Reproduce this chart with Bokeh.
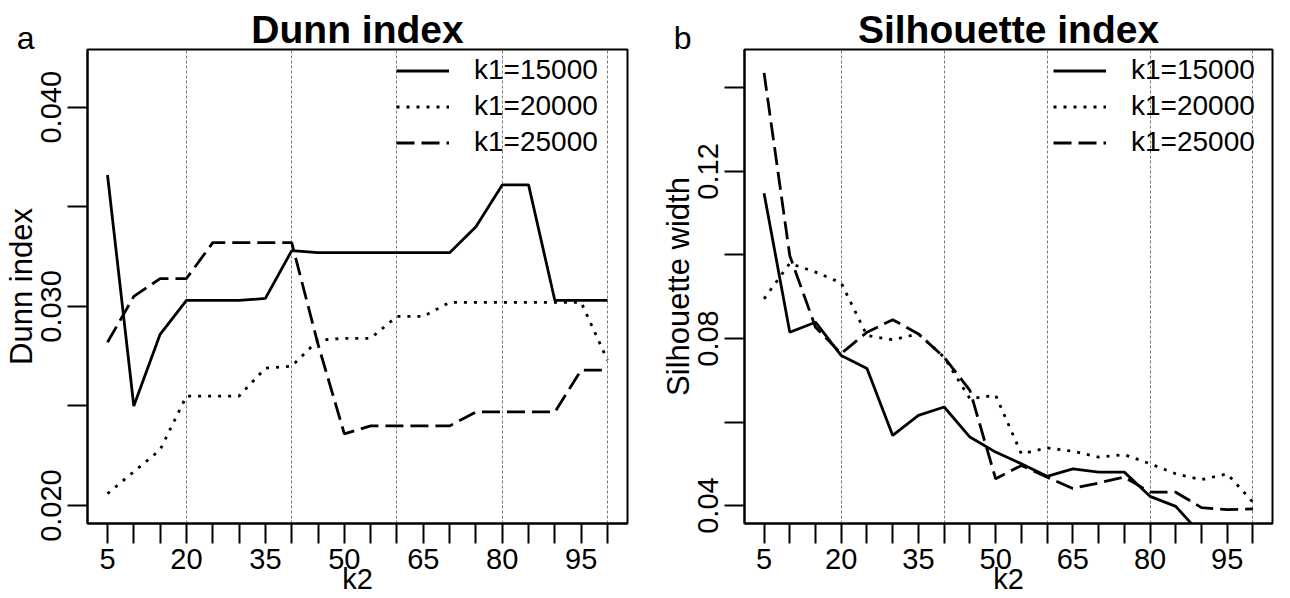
import math
from bokeh.plotting import figure
from bokeh.models import FixedTicker, Range1d, Label, Legend, LegendItem
from bokeh.layouts import row
from bokeh.embed import file_html
from bokeh.resources import INLINE

# ---------------- data ----------------
k2 = [5, 10, 15, 20, 25, 30, 35, 40, 45, 50, 55, 60, 65, 70, 75, 80, 85, 90, 95, 100]

dunn_k1_15000 = [0.0366, 0.0250, 0.0286, 0.0303, 0.0303, 0.0303, 0.0304, 0.0328, 0.0327, 0.0327,
                 0.0327, 0.0327, 0.0327, 0.0327, 0.0340, 0.0361, 0.0361, 0.0303, 0.0303, 0.0303]
dunn_k1_20000 = [0.0206, 0.0217, 0.0228, 0.0255, 0.0255, 0.0255, 0.0269, 0.0270, 0.0283, 0.0284,
                 0.0284, 0.0295, 0.0295, 0.0302, 0.0302, 0.0302, 0.0302, 0.0302, 0.0302, 0.0273]
dunn_k1_25000 = [0.0282, 0.0305, 0.0314, 0.0314, 0.0332, 0.0332, 0.0332, 0.0332, 0.0281, 0.0236,
                 0.0240, 0.0240, 0.0240, 0.0240, 0.0247, 0.0247, 0.0247, 0.0247, 0.0268, 0.0268]

sil_k1_15000 = [0.1148, 0.0815, 0.0839, 0.0759, 0.0728, 0.0568, 0.0616, 0.0636, 0.0564, 0.0528,
                0.0500, 0.0470, 0.0488, 0.0480, 0.0480, 0.0422, 0.0398, 0.0330, 0.0330, 0.0330]
sil_k1_20000 = [0.0895, 0.0980, 0.0959, 0.0933, 0.0807, 0.0797, 0.0811, 0.0755, 0.0656, 0.0664,
                0.0524, 0.0538, 0.0530, 0.0516, 0.0522, 0.0500, 0.0476, 0.0462, 0.0476, 0.0408]
sil_k1_25000 = [0.1436, 0.0998, 0.0827, 0.0764, 0.0815, 0.0845, 0.0811, 0.0755, 0.0676, 0.0464,
                0.0496, 0.0468, 0.0441, 0.0454, 0.0468, 0.0432, 0.0432, 0.0395, 0.0390, 0.0392]

series_labels = ["k1=15000", "k1=20000", "k1=25000"]

x_ticks = [5, 10, 15, 20, 25, 30, 35, 40, 45, 50, 55, 60, 65, 70, 75, 80, 85, 90, 95, 100]
x_labelled = [5, 20, 35, 50, 65, 80, 95]
x_grid = [20, 40, 60, 80, 100]

dunn_y_ticks = [0.020, 0.025, 0.030, 0.035, 0.040]
dunn_y_labels = {0.020: "0.020", 0.030: "0.030", 0.040: "0.040"}
sil_y_ticks = [0.04, 0.06, 0.08, 0.10, 0.12, 0.14]
sil_y_labels = {0.04: "0.04", 0.08: "0.08", 0.12: "0.12"}

# ---------------- style ----------------
FONT = "Liberation Sans"
DASHES = ["solid", "3 7", "18 7"]
H = 598
TOP, BOTTOM = 49, 75
FRAME_H = H - TOP - BOTTOM


def make_panel(title, letter, ylabel, ys, x_rng, y_rng, y_ticks, y_labels,
               width, left, right):
    frame_w = width - left - right
    p = figure(width=width, height=H, output_backend="svg", toolbar_location=None,
               x_range=Range1d(*x_rng), y_range=Range1d(*y_rng))
    p.min_border_left = left
    p.min_border_right = right
    p.min_border_top = TOP
    p.min_border_bottom = BOTTOM
    p.background_fill_color = "white"
    p.border_fill_color = "white"
    p.outline_line_color = "black"
    p.outline_line_width = 2

    def dx(px):
        return x_rng[0] + px * (x_rng[1] - x_rng[0]) / frame_w

    def dy(px):
        return y_rng[1] - px * (y_rng[1] - y_rng[0]) / FRAME_H

    # title
    p.title.text = title
    p.title.align = "center"
    p.title.text_font = FONT
    p.title.text_font_style = "bold"
    p.title.text_font_size = "39px"
    p.title.text_color = "black"
    p.title.standoff = -3

    # grid
    p.ygrid.visible = False
    p.xgrid.ticker = FixedTicker(ticks=x_grid)
    p.xgrid.grid_line_color = "#7a7a7a"
    p.xgrid.grid_line_dash = "3 2"
    p.xgrid.grid_line_width = 1

    # axes
    for ax in (p.xaxis[0], p.yaxis[0]):
        ax.axis_line_width = 2
        ax.axis_line_color = "black"
        ax.major_tick_line_width = 2
        ax.major_tick_line_color = "black"
        ax.major_tick_out = 20
        ax.major_tick_in = 0
        ax.minor_tick_out = 0
        ax.minor_tick_in = 0
        ax.major_label_text_font = FONT
        ax.major_label_text_font_size = "29px"
        ax.major_label_text_color = "black"
        ax.axis_label_text_font = FONT
        ax.axis_label_text_font_style = "normal"
        ax.axis_label_text_color = "black"
    p.xaxis[0].ticker = FixedTicker(ticks=x_ticks)
    p.xaxis[0].major_label_overrides = {t: (str(t) if t in x_labelled else "") for t in x_ticks}
    p.xaxis[0].major_label_standoff = 5
    p.xaxis[0].axis_label = "k2"
    p.xaxis[0].axis_label_text_font_size = "29px"
    p.xaxis[0].axis_label_standoff = -9
    p.yaxis[0].ticker = FixedTicker(ticks=y_ticks)
    p.yaxis[0].major_label_overrides = {t: y_labels.get(t, "") for t in y_ticks}
    p.yaxis[0].major_label_orientation = "parallel"
    p.yaxis[0].major_label_standoff = 6
    p.yaxis[0].axis_label = ylabel
    p.yaxis[0].axis_label_text_font_size = "31px"
    p.yaxis[0].axis_label_standoff = 0

    # lines
    renderers = []
    for yv, dash in zip(ys, DASHES):
        r = p.line(k2, yv, line_color="black", line_width=2.8, line_dash=dash)
        renderers.append(r)

    legend = Legend(items=[LegendItem(label=lab, renderers=[r]) for lab, r in zip(series_labels, renderers)],
                    location=(309, 365), orientation="vertical",
                    glyph_width=53, glyph_height=29, label_height=29, label_standoff=25,
                    spacing=4, padding=0, margin=0,
                    border_line_alpha=0, background_fill_alpha=0,
                    label_text_font=FONT, label_text_font_size="28px", label_text_color="black")
    p.add_layout(legend)

    # panel letter, placed in a side panel so it is not clipped to the frame
    p.add_layout(Label(x=dx(-71), y=dy(-12), text=letter, text_align="left", text_baseline="alphabetic",
                       text_font=FONT, text_font_size="32px", text_color="black"), "right")
    return p


p1 = make_panel("Dunn index", "a", "Dunn index",
                [dunn_k1_15000, dunn_k1_20000, dunn_k1_25000],
                (1.2, 103.8), (0.0191, 0.0429), dunn_y_ticks, dunn_y_labels,
                width=657, left=86, right=30)
p2 = make_panel("Silhouette index", "b", "Silhouette width",
                [sil_k1_15000, sil_k1_20000, sil_k1_25000],
                (1.2, 103.8), (0.0357, 0.1492), sil_y_ticks, sil_y_labels,
                width=633, left=86, right=18)

layout = row(p1, p2)
open("out.html", "w").write(file_html(layout, INLINE))
